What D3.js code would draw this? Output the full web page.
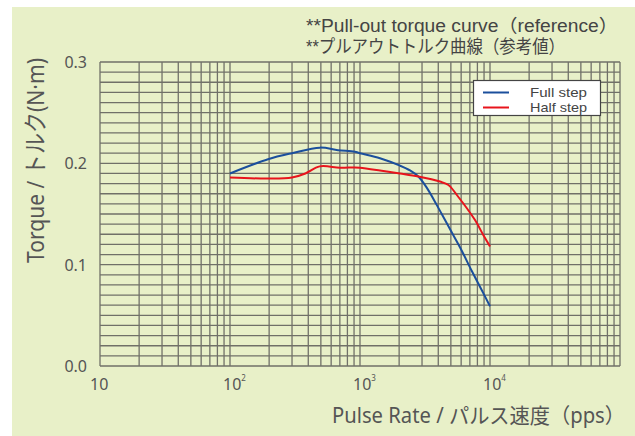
<!DOCTYPE html>
<html>
<head>
<meta charset="utf-8">
<script src="https://cdn.jsdelivr.net/npm/d3@7/dist/d3.min.js"></script>
<style>
html,body{margin:0;padding:0;background:#fff;}
svg{display:block;}
text{font-family:"Noto Sans","Noto Sans CJK JP",sans-serif;}
text.compact{font-family:"Liberation Sans","Noto Sans CJK JP",sans-serif;}
</style>
</head>
<body>
<svg id="chart" width="635" height="436"></svg>
<script>
// ---- data ----
const fullPps    = [100, 196, 300, 492, 677, 912, 1000, 1425, 2030, 2425, 2810, 3260, 3890, 4510, 5225, 6050, 7230, 8630, 10000];
const fullTorque = [0.190, 0.204, 0.210, 0.2155, 0.213, 0.2115, 0.210, 0.205, 0.1977, 0.193, 0.187, 0.176, 0.159, 0.144, 0.129, 0.114, 0.094, 0.075, 0.059];
const halfPps    = [100, 196, 300, 380, 490, 700, 912, 1000, 1425, 2030, 2810, 4120, 4790, 5540, 7670, 8900, 10000];
const halfTorque = [0.186, 0.185, 0.186, 0.190, 0.197, 0.1957, 0.196, 0.1957, 0.193, 0.190, 0.187, 0.182, 0.1786, 0.169, 0.144, 0.129, 0.118];
const seriesNames = ["Full step", "Half step"];
const xTickValues = [10, 100, 1000, 10000];
const xTickExponents = ["", "2", "3", "4"];
const yTickValues = [0, 0.1, 0.2, 0.3];
const titleLines = ["**Pull-out torque curve（reference）", "**プルアウトトルク曲線（参考値）"];
const xAxisTitle = "Pulse Rate / パルス速度（pps）";
const yAxisTitle = "Torque / トルク(N·m)";

// ---- layout ----
const svg = d3.select("#chart");
const L = 100, R = 620, T = 62, B = 366;
const bg = "#e8f0c8";
const gridColor = "#707068";
const textColor = "#555";
const colors = ["#1b4f9c", "#e8141c"];

svg.append("rect").attr("x", 12).attr("y", 7).attr("width", 623).attr("height", 429).attr("fill", bg);

const x = d3.scaleLog().domain([10, 100000]).range([L, R]);
const y = d3.scaleLinear().domain([0, 0.3]).range([B, T]);

// grid
const g = svg.append("g");
const vTicks = [];
for (let d = 10; d < 100000; d *= 10) for (let m = 1; m <= 9; m++) vTicks.push(d * m);
vTicks.push(100000);
g.selectAll("line.v").data(vTicks).enter().append("line")
  .attr("x1", d => x(d)).attr("x2", d => x(d)).attr("y1", T).attr("y2", B)
  .attr("stroke", gridColor).attr("stroke-width", 1.3);
const hTicks = d3.range(0, 31).map(i => i / 100);
g.selectAll("line.h").data(hTicks).enter().append("line")
  .attr("x1", L).attr("x2", R).attr("y1", d => y(d)).attr("y2", d => y(d))
  .attr("stroke", gridColor).attr("stroke-width", 1.3);

// y tick labels
svg.selectAll("text.yt").data(yTickValues).enter().append("text")
  .attr("x", 87).attr("y", d => y(d) + 6)
  .attr("text-anchor", "end").attr("font-size", 16).attr("fill", textColor)
  .text(d => d.toFixed(1));

// x tick labels
const xt = svg.selectAll("text.xt").data(xTickValues).enter().append("text")
  .attr("x", (d, i) => x(d) - (i === 0 ? 10 : 7)).attr("y", 390)
  .attr("font-size", 16).attr("fill", textColor);
xt.append("tspan").text("10");
xt.append("tspan").attr("dy", -9).attr("font-size", 8).text((d, i) => xTickExponents[i]);

// curves
const line = d3.line().x(d => x(d[0])).y(d => y(d[1])).curve(d3.curveCatmullRom.alpha(0.5));
const series = [d3.zip(fullPps, fullTorque), d3.zip(halfPps, halfTorque)];
svg.selectAll("path.s").data(series).enter().append("path")
  .attr("d", line).attr("fill", "none")
  .attr("stroke", (d, i) => colors[i]).attr("stroke-width", 2);

// legend
svg.append("rect").attr("x", 473.5).attr("y", 80.5).attr("width", 127).attr("height", 35)
  .attr("fill", "#fff").attr("stroke", "#444").attr("stroke-width", 1.2);
seriesNames.forEach((n, i) => {
  svg.append("line").attr("x1", 483).attr("x2", 509).attr("y1", 92.5 + i * 15).attr("y2", 92.5 + i * 15)
    .attr("stroke", colors[i]).attr("stroke-width", 2);
  svg.append("text").attr("class", "compact").attr("x", 530).attr("y", 96.5 + i * 15).attr("font-size", 13)
    .attr("textLength", 57).attr("lengthAdjust", "spacingAndGlyphs")
    .attr("fill", "#444").text(n);
});

// titles
svg.append("text").attr("class", "compact").attr("x", 306).attr("y", 32).attr("font-size", 18).attr("fill", "#444")
  .attr("textLength", 312).attr("lengthAdjust", "spacingAndGlyphs").text(titleLines[0]);
svg.append("text").attr("class", "compact").attr("x", 306).attr("y", 53).attr("font-size", 18).attr("fill", "#444")
  .attr("textLength", 259).attr("lengthAdjust", "spacingAndGlyphs").text(titleLines[1]);

// axis titles
svg.append("text").attr("x", 332).attr("y", 423).attr("font-size", 21).attr("fill", textColor)
  .attr("textLength", 293).attr("lengthAdjust", "spacingAndGlyphs").text(xAxisTitle);
svg.append("text").attr("transform", "translate(44,263) rotate(-90)")
  .attr("font-size", 24).attr("fill", textColor)
  .attr("textLength", 205).attr("lengthAdjust", "spacingAndGlyphs").text(yAxisTitle);
</script>
</body>
</html>
